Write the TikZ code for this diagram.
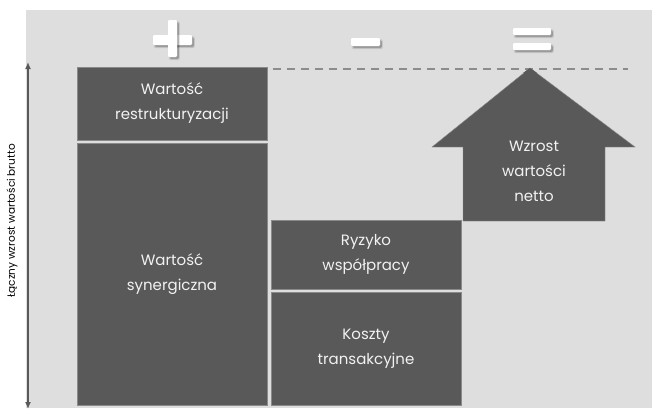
\documentclass[tikz,border=0pt]{standalone}
\usepackage{fontspec}
\setmainfont{Poppins}
\usetikzlibrary{arrows.meta}
\definecolor{panel}{HTML}{DEDEDE}
\definecolor{block}{HTML}{595959}
\definecolor{blockedge}{HTML}{8A8A8A}
\definecolor{dashgray}{HTML}{8C8C8C}
\definecolor{lighttext}{HTML}{F2F2F2}
\tikzset{
  blockbox/.style={fill=block, draw=blockedge, line width=0.4pt, inner sep=0pt, outer sep=0pt,
    anchor=north west, text=lighttext, align=center, font=\fontsize{15}{25}\selectfont},
  guideline/.style={dashgray, line width=1.6pt, dash pattern=on 8pt off 6pt},
}
% a white bar with a soft drop shadow: #1 = lower-left corner, #2 = upper-right corner
\newcommand{\symbar}[2]{%
  \begin{scope}[shift={(1.8,2.2)}]
    \fill[black, opacity=0.10, rounded corners=2pt] ($#1+(-1,1)$) rectangle ($#2+(1,-1)$);
    \fill[black, opacity=0.22, rounded corners=1.5pt] #1 rectangle #2;
  \end{scope}
  \fill[white, rounded corners=1.2pt] #1 rectangle #2;
}
\usetikzlibrary{calc}
\begin{document}
\begin{tikzpicture}[x=1pt, y=-1pt]
  \useasboundingbox (0,0) rectangle (652,408);
  % panel
  \fill[panel] (26,10) rectangle (652,408);

  % operator symbols
  \symbar{(153,45)}{(192,35)}
  \symbar{(168,57)}{(177,20)}
  \symbar{(351,46)}{(380,38)}
  \symbar{(513,35)}{(551,28)}
  \symbar{(513,50)}{(551,43)}

  % vertical axis
  \coordinate (axtop) at (28,62);
  \coordinate (axbot) at (28,409);
  \draw[block, line width=2pt, {Latex[length=7pt,width=6pt]}-{Latex[length=7pt,width=6pt]}] (axbot) -- (axtop);
  \node[rotate=90, font=\fontsize{10.5}{12}\selectfont, text=black] (axlabel) at (12,221) {Łączny wzrost wartości brutto};

  % left column
  \node[blockbox, minimum width=190pt, minimum height=73pt] (restr) at (77,67) {Wartość\\restrukturyzacji};
  \node[blockbox, minimum width=190pt, minimum height=262pt] (syn) at (77,143) {Wartość\\synergiczna};

  % middle column
  \node[blockbox, minimum width=190pt, minimum height=69pt] (risk) at (271,220) {Ryzyko\\współpracy};
  \node[blockbox, minimum width=190pt, minimum height=113pt] (cost) at (271,292) {Koszty\\transakcyjne};

  % net value arrow
  \coordinate (tip) at (530,68);
  \fill[block, draw=blockedge, line width=0.4pt] (tip) -- (635,147) -- (605,147) -- (605,221)
     -- (463,221) -- (463,147) -- (432,147) -- cycle;
  \node[text=lighttext, align=center, font=\fontsize{15}{25}\selectfont] (net) at (534,171) {Wzrost\\wartości\\netto};

  % guide line at the gross level
  \coordinate (gstart) at (273,69);
  \coordinate (gend) at (628,69);
  \draw[guideline] (gstart) -- (gend);
  \fill[block] (tip) -- (537,73) -- (523,73) -- cycle;
\end{tikzpicture}
\end{document}
